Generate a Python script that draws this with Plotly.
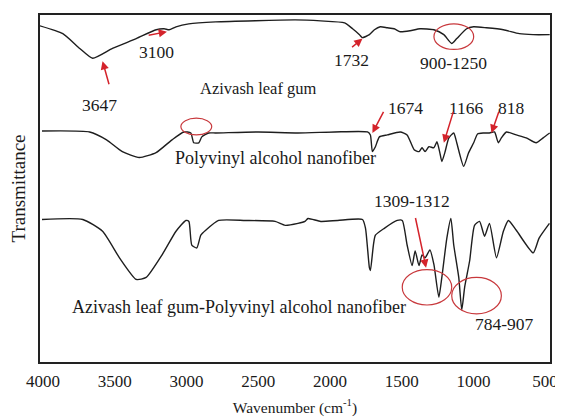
import plotly.graph_objects as go

# ---- data (wavenumber in cm^-1, transmittance in arbitrary units) ----
gum_wn = [4021, 3862, 3744, 3654, 3516, 3350, 3211, 3156, 3121, 3073, 2984, 2797, 2243, 2064,
          1898, 1842, 1794, 1774, 1725, 1690, 1649, 1600, 1552, 1510, 1441, 1372, 1275, 1206,
          1151, 1116, 1047, 999, 909, 791, 680, 584, 468]
gum_t = [342, 334, 319, 309, 319, 329, 338, 339, 338, 341, 344, 346, 348, 347,
         345, 339, 333, 330, 333, 338, 341, 340, 339, 336, 337, 339, 338, 333,
         324, 329, 339, 341, 340, 338, 334, 333, 333]

pva_wn = [4007, 3675, 3557, 3447, 3329, 3212, 3101, 3018, 2970, 2949, 2914, 2893, 2845, 2797,
          2500, 2223, 1967, 1738, 1718, 1704, 1683, 1655, 1600, 1510, 1462, 1413, 1379, 1358,
          1337, 1310, 1275, 1254, 1234, 1220, 1199, 1171, 1137, 1116, 1068, 1033, 998, 971,
          929, 888, 853, 826, 805, 770, 701, 632, 563, 514, 468]
pva_t = [235, 234, 226, 214, 208, 213, 226, 234, 233, 223, 223, 229, 233, 233,
         234, 233, 234, 234, 231, 214, 219, 229, 231, 234, 231, 216, 214, 218,
         214, 219, 218, 224, 213, 204, 213, 228, 233, 223, 199, 213, 223, 232,
         233, 233, 234, 223, 228, 234, 231, 228, 223, 228, 233]

blend_wn = [4007, 3723, 3585, 3467, 3350, 3281, 3170, 3073, 3004, 2983, 2963, 2928, 2900, 2866,
            2776, 2589, 2382, 2312, 2223, 2174, 2153, 2064, 1946, 1773, 1752, 1725, 1718, 1697,
            1683, 1621, 1531, 1496, 1462, 1427, 1406, 1379, 1358, 1337, 1303, 1275, 1241, 1220,
            1185, 1157, 1137, 1102, 1081, 1061, 1026, 992, 957, 922, 888, 839, 791, 756, 701,
            583, 542, 470]
blend_t = [145, 145, 133, 106, 84, 86, 109, 133, 144, 143, 119, 116, 129, 134,
           144, 144, 143, 139, 141, 143, 146, 143, 144, 145, 136, 96, 93, 119,
           129, 136, 144, 144, 119, 98, 113, 98, 109, 106, 114, 99, 66, 86,
           126, 146, 119, 86, 53, 76, 103, 139, 143, 128, 141, 106, 133, 144, 134,
           111, 126, 141]

x_ticks = [4000, 3500, 3000, 2500, 2000, 1500, 1000, 500]

# labels: (text, wavenumber, transmittance, font size)
labels = [
    ("3647", 3606, 261, 17.5), ("3100", 3212, 315, 17.5), ("Azivash leaf gum", 2499, 278, 16.5),
    ("1732", 1849, 307, 17.5), ("900-1250", 1137, 304, 17.5),
    ("1674", 1476, 258, 17.5), ("1166", 1047, 258, 17.5), ("818", 736, 258, 17.5),
    ("Polyvinyl alcohol nanofiber", 2382, 208, 18),
    ("1309-1312", 1427, 164, 17.5),
    ("Azivash leaf gum-Polyvinyl alcohol nanofiber", 2631, 56, 18),
    ("784-907", 784, 39, 17.5),
]
# arrows: (tip_wn, tip_t, tail_wn, tail_t)
arrows = [
    (3585, 306, 3537, 281), (3136, 336, 3274, 332), (1773, 329, 1856, 319),
    (1704, 233, 1621, 256), (1206, 223, 1137, 256), (874, 233, 819, 256),
    (1330, 96, 1406, 148),
]
# circles: (wn0, wn1, t0, t1)
circles = [
    (1275, 998, 318, 344), (3039, 2824, 231, 248),
    (1496, 1151, 58, 94), (1151, 805, 49, 86),
]

SERIF = "Liberation Serif"
RED = "#d4232b"
INK = "#1a1a1a"

fig = go.Figure()
for wn, t in [(gum_wn, gum_t), (pva_wn, pva_t), (blend_wn, blend_t)]:
    fig.add_trace(go.Scatter(x=wn, y=t, mode="lines",
                             line=dict(color="#1e1e1e", width=1.4, shape="spline", smoothing=0.55),
                             showlegend=False, hoverinfo="skip"))

for text, x, y, s in labels:
    fig.add_annotation(x=x, y=y, text=text, showarrow=False,
                       font=dict(family=SERIF, size=s, color=INK))

for tx, ty, ax, ay in arrows:
    fig.add_annotation(x=tx, y=ty, ax=ax, ay=ay, axref="x", ayref="y", text="",
                       showarrow=True, arrowhead=2, arrowsize=1.1, arrowwidth=1.5,
                       arrowcolor=RED, standoff=0)

for x0, x1, y0, y1 in circles:
    fig.add_shape(type="circle", xref="x", yref="y", x0=x0, x1=x1, y0=y0, y1=y1,
                  line=dict(color="#c8383c", width=1.2))

fig.update_layout(
    width=555, height=411,
    margin=dict(l=32, r=9, t=5, b=53),
    paper_bgcolor="white", plot_bgcolor="white",
    font=dict(family=SERIF, color=INK),
    xaxis=dict(range=[4021, 466], tickvals=x_ticks, ticks="", showgrid=False, zeroline=False,
               showline=True, mirror=True, linecolor="#222", linewidth=1.5,
               ticklabelstandoff=3,
               tickfont=dict(family=SERIF, size=17, color=INK),
               title=dict(text="Wavenumber (cm<sup>-1</sup>)", standoff=12,
                          font=dict(family=SERIF, size=15.5, color=INK))),
    yaxis=dict(range=[0, 353], showticklabels=False, ticks="", showgrid=False, zeroline=False,
               showline=True, mirror=True, linecolor="#222", linewidth=1.5,
               title=dict(text="Transmittance", standoff=9,
                          font=dict(family=SERIF, size=19, color=INK))),
)

fig.write_html("out.html")
